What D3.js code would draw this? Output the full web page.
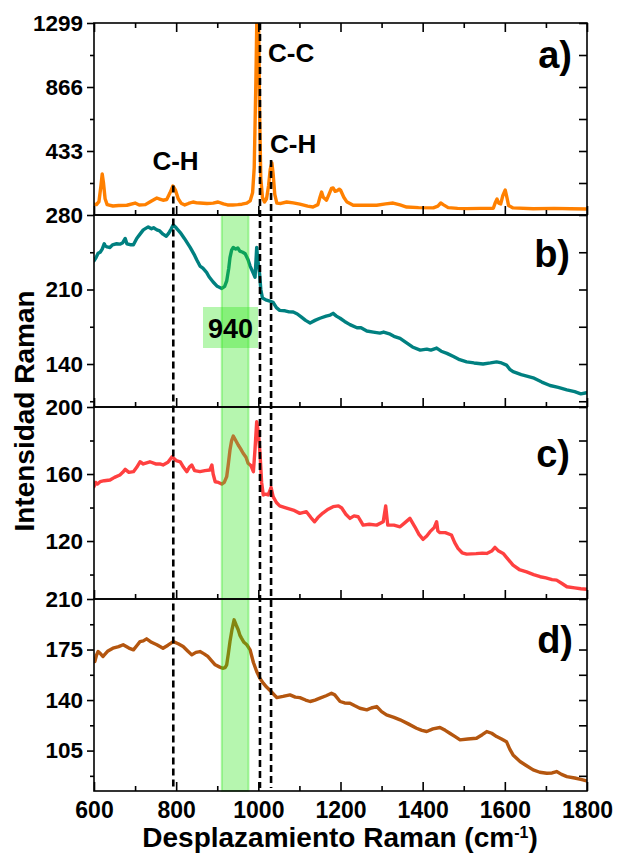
<!DOCTYPE html>
<html><head><meta charset="utf-8">
<script src="https://cdn.jsdelivr.net/npm/d3@7"></script>
<style>
html,body{margin:0;padding:0;background:#fff}
svg{display:block}
text{font-family:"Liberation Sans",Arial,Helvetica,sans-serif;font-weight:bold;fill:#000}
</style>
</head><body>
<svg id="chart" width="617" height="854"></svg>
<script>
// ---------- data ----------
const shiftA = [600,606,612,617,620,623,627,632,646,660,680,700,710,725,740,753,760,768,777,785,792,798,805,812,821,830,841,850,858,875,890,902,915,925,938,950,960,972,980,986,990,994,997,1000,1003,1006,1010,1015,1020,1025,1029,1033,1036,1040,1045,1055,1069,1085,1101,1120,1133,1145,1150,1154,1158,1166,1172,1178,1182,1187,1192,1197,1200,1208,1215,1231,1260,1288,1310,1328,1345,1361,1390,1426,1437,1444,1450,1462,1485,1507,1540,1572,1577,1581,1585,1590,1595,1601,1605,1609,1620,1669,1720,1760,1800];
const ramanA = [74,70,90,200,277,220,110,70,61,64,66,81,68,70,95,115,108,100,105,150,196,170,110,80,68,78,88,82,81,78,80,88,75,68,68,70,73,80,95,150,320,900,1450,1450,700,250,120,88,110,200,310,352,280,140,80,78,88,82,74,60,54,70,120,155,120,100,140,180,183,160,165,175,169,120,90,66,66,66,75,81,68,54,50,48,60,81,70,50,45,43,45,46,85,108,80,75,130,169,120,65,48,42,45,42,41];

const shiftB = [600,605,610,615,620,625,627,632,639,645,655,663,670,676,680,690,696,704,712,720,732,740,745,753,760,768,776,782,788,793,800,810,820,834,845,850,858,865,874,880,890,900,911,918,923,928,931,935,939,945,950,955,962,968,975,980,987,992,994,996,998,1003,1006,1010,1020,1028,1036,1044,1052,1065,1075,1085,1095,1105,1115,1126,1138,1150,1165,1175,1182,1190,1199,1210,1223,1240,1250,1264,1280,1296,1305,1321,1330,1345,1360,1375,1394,1410,1420,1434,1445,1459,1475,1490,1507,1525,1547,1565,1580,1592,1604,1612,1620,1640,1669,1690,1710,1730,1751,1770,1785,1799];
const ramanB = [237,240,244,245,248,253,251,250,249.5,252,253,252.6,254,258,253,252,252,258,262,266,268.8,267,268,266,265,262,260,263,267,270.7,268,263.5,258,249.5,242,238,232,230,226,222,217,213,211,213,218,230,240,247,249.5,248,249,246,245,243.6,238,232,226,221.5,235,249.5,240,225,210,202,200,199,198,193,190.4,190,189,188.8,187,184,181,178.6,181,183,185,186,187.6,185,183,180,177,174,174,171,170,169,170,168,166,164,160,156,153,154,153,155,152,150,147,144,142,141,140,141,142,141,139,135,132.8,130,127,123,119.8,118,115.7,114,112,113];

const shiftC = [600,604,608,615,625,639,650,663,670,676,685,696,704,712,720,736,750,760,768,780,790,800,810,818,826,832,838,845,858,870,882,887,890,895,903,911,917,923,927,931,935,939,945,951,957,963,970,975,982,988,992,996,1000,1004,1008,1012,1018,1024,1028,1031,1036,1044,1052,1065,1085,1101,1117,1128,1137,1145,1157,1170,1182,1195,1203,1213,1223,1233,1243,1249,1255,1270,1288,1304,1310,1315,1330,1345,1357,1369,1375,1381,1391,1401,1410,1418,1428,1434,1437,1442,1455,1470,1478,1486,1496,1507,1530,1545,1556,1568,1576,1585,1596,1605,1620,1635,1653,1670,1686,1700,1715,1726,1740,1751,1770,1785,1799];
const ramanC = [152.4,155,154,155.4,156,156.4,158,159.4,161,162.8,161,161.4,164,167.3,166,167.3,166,166,165.4,167,170.3,168,167.3,164,161.4,164,165.4,162,161.4,162,162.4,165.4,160,155.4,155,154,155,158.4,166,174.3,180,182.7,180,177.3,175,172.4,170,166.4,165,161.4,175,191.2,185,172.5,155,147.5,148,147.5,150,152,146.5,143,141,140,138.5,136.5,137.5,134,131.5,134,136.7,139,140.5,141,139.7,136,133.5,135,134.5,132,129.5,130,129.5,131.5,140.9,129.5,129.5,128.5,131,133.5,131,128.5,124,121,123,125.6,128,131.5,126,125,125,123.6,119,115.6,113,112.2,112.5,112.8,112.6,114,116.2,114,112.6,110,105.6,103,101.6,100,98.7,98,97,96.7,94.5,92.7,92,91.5,91.2];

const shiftD = [600,602,606,610,616,622,634,646,660,671,685,696,705,712,720,728,740,753,768,780,793,805,817,828,838,848,858,868,877,887,895,905,913,919,923,927,931,936,941,946,951,955,959,965,972,980,988,996,1004,1012,1020,1031,1045,1060,1077,1090,1101,1115,1126,1138,1150,1165,1178,1186,1199,1210,1223,1235,1247,1264,1275,1288,1300,1312,1330,1345,1365,1385,1398,1410,1425,1442,1455,1466,1480,1491,1510,1531,1545,1556,1568,1580,1592,1604,1612,1620,1637,1650,1669,1685,1702,1715,1726,1738,1751,1770,1785,1799];
const ramanD = [166.7,166.7,171,173.6,172,170.2,174,175.9,177,178.3,176,174.8,178,180.5,181,182.4,180,178.3,175.9,178,180.5,179,177.1,174,171.3,173,173.6,172,170.2,167,164.4,163,162,162.5,164.4,172,180.5,189,195.6,192,188.7,185,182.9,180,178.3,174.8,166,159.8,155,151.7,149,145.9,141.7,142.5,143.6,142,141.7,140,139,140,141.3,143,144.7,143.6,139,138,137.8,136,134.3,133.2,134.5,135.5,132,129.7,128,126.3,123.5,120.5,119,118.2,120,121,119,117,114.5,112.4,113,113.5,116,118.2,117,114.7,113,111.2,106,102,97.4,95,91.6,90,89.3,89.5,90.5,88.5,87,86,85,84];

const xTicks = [600,800,1000,1200,1400,1600,1800];
const xMinorTicks = [700,900,1100,1300,1500,1700];
const yTicksA = [433,866,1299], yMinorA = [216.5,649.5,1082.5];
const yTicksB = [280,210,140],  yMinorB = [245,175,105];
const yTicksC = [200,160,120],  yMinorC = [180,140,100];
const yTicksD = [210,175,140,105], yMinorD = [192.5,157.5,122.5,87.5];
const panelLabels = ["a)","b)","c)","d)"];
const markerShifts = [793,1004,1031];
const markerTops = [200,1299,372];     // intensity in panel a where each dashed line starts
const peakNames = ["C-H","C-C","C-H"];
const bandRange = [911,976];
const bandName = "940";
const xTitle = "Desplazamiento Raman (cm";
const yTitle = "Intensidad Raman";

// ---------- layout ----------
const svg = d3.select("#chart");
const L = 94, R = 587, panelTops = [23,215,407,599], PH = 192;
const x = d3.scaleLinear().domain([600,1800]).range([L,R]);

const panels = [
  {sx:shiftA, sy:ramanA, color:"#ff8000", dom:[0,1299],   ticks:yTicksA, minor:yMinorA, lab:[572,68]},
  {sx:shiftB, sy:ramanB, color:"#008080", dom:[99.6,280], ticks:yTicksB, minor:yMinorB, lab:[570,267]},
  {sx:shiftC, sy:ramanC, color:"#ff4040", dom:[85.4,200], ticks:yTicksC, minor:yMinorC, lab:[570,467]},
  {sx:shiftD, sy:ramanD, color:"#b4560f", dom:[77,210],   ticks:yTicksD, minor:yMinorD, lab:[573,653]}
];

svg.append("rect").attr("width",617).attr("height",854).attr("fill","#fff");
const defs = svg.append("defs");

panels.forEach((p,i)=>{
  const top = panelTops[i], bot = top+PH;
  p.y = d3.scaleLinear().domain(p.dom).range([bot,top]);
  defs.append("clipPath").attr("id","clip"+i).append("rect")
    .attr("x",L).attr("y",top).attr("width",R-L).attr("height",PH);
  const pts = p.sx.map((s,k)=>[s,p.sy[k]]);
  svg.append("path").datum(pts)
    .attr("clip-path","url(#clip"+i+")")
    .attr("fill","none").attr("stroke",p.color).attr("stroke-width",3.4)
    .attr("stroke-linejoin","round").attr("stroke-linecap","round")
    .attr("d", d3.line().x(d=>x(d[0])).y(d=>p.y(d[1])));
});

// green band over panels b-d
const bandTop = panelTops[1], bandBot = panelTops[3]+PH;
svg.append("rect")
  .attr("x",x(bandRange[0])).attr("y",bandTop)
  .attr("width",x(bandRange[1])-x(bandRange[0])).attr("height",bandBot-bandTop)
  .attr("fill","rgb(40,230,20)").attr("fill-opacity",0.34)
  .attr("stroke","rgb(40,230,20)").attr("stroke-opacity",0.35).attr("stroke-width",2);
// 940 box
svg.append("rect").attr("x",203).attr("y",307).attr("width",55).attr("height",41)
  .attr("fill","rgb(40,230,20)").attr("fill-opacity",0.34);
svg.append("text").attr("x",230.5).attr("y",338).attr("text-anchor","middle")
  .style("font-size","27px").text(bandName);

// dashed marker lines
const yA = panels[0].y;
markerShifts.forEach((s,k)=>{
  svg.append("line").attr("x1",x(s)).attr("x2",x(s))
    .attr("y1",yA(markerTops[k])).attr("y2",bandBot-3)
    .attr("stroke","#000").attr("stroke-width",2.6).attr("stroke-dasharray","7,4");
});

// frames and axes
panels.forEach((p,i)=>{
  const top = panelTops[i], bot = top+PH;
  svg.append("rect").attr("x",L).attr("y",top).attr("width",R-L).attr("height",PH)
    .attr("fill","none").attr("stroke","#000").attr("stroke-width",1.6);
  const style = g=>{ g.select(".domain").remove(); g.selectAll("line").attr("stroke","#000").attr("stroke-width",1.6); };
  svg.append("g").attr("transform",`translate(${L},0)`)
    .call(d3.axisLeft(p.y).tickValues(p.ticks).tickSize(7).tickPadding(4).tickFormat(d3.format("d")))
    .call(style)
    .call(g=>g.selectAll("text").style("font-size","22.5px").attr("fill","#000").attr("font-family",null));
  svg.append("g").attr("transform",`translate(${L},0)`)
    .call(d3.axisLeft(p.y).tickValues(p.minor).tickSize(4).tickFormat(""))
    .call(style);
  svg.append("g").attr("transform",`translate(${R},0)`)
    .call(d3.axisRight(p.y).tickValues(p.ticks.concat(p.minor)).tickSize(-8).tickFormat(""))
    .call(style);
  const bAx = svg.append("g").attr("transform",`translate(0,${bot})`);
  if(i===3){
    bAx.call(d3.axisBottom(x).tickValues(xTicks).tickSize(-9).tickPadding(11).tickFormat(d3.format("d")))
      .call(style)
      .call(g=>g.selectAll("text").style("font-size","23px").attr("fill","#000").attr("font-family",null));
  } else {
    bAx.call(d3.axisBottom(x).tickValues(xTicks).tickSize(-9).tickFormat("")).call(style);
  }
  svg.append("g").attr("transform",`translate(0,${bot})`)
    .call(d3.axisBottom(x).tickValues(xMinorTicks).tickSize(-5).tickFormat("")).call(style);
  if(i===0){
    svg.append("g").attr("transform",`translate(0,${top})`)
      .call(d3.axisTop(x).tickValues(xTicks).tickSize(-9).tickFormat("")).call(style);
    svg.append("g").attr("transform",`translate(0,${top})`)
      .call(d3.axisTop(x).tickValues(xMinorTicks).tickSize(-5).tickFormat("")).call(style);
  }
  svg.append("text").attr("x",p.lab[0]).attr("y",p.lab[1]).attr("text-anchor","end")
    .style("font-size","38px").text(panelLabels[i]);
});

// peak labels
svg.append("text").attr("x",175.5).attr("y",170).attr("text-anchor","middle").style("font-size","26px").text(peakNames[0]);
svg.append("text").attr("x",268).attr("y",62).style("font-size","26px").text(peakNames[1]);
svg.append("text").attr("x",270).attr("y",153).style("font-size","26px").text(peakNames[2]);

// axis titles
const xt = svg.append("text").attr("x",340).attr("y",847).attr("text-anchor","middle").style("font-size","28px");
xt.append("tspan").text(xTitle);
xt.append("tspan").attr("dy",-9).style("font-size","16px").text("-1");
xt.append("tspan").attr("dy",9).text(")");
svg.append("text").attr("transform","translate(34,411) rotate(-90)").attr("text-anchor","middle")
  .style("font-size","28px").text(yTitle);
</script>
</body></html>
